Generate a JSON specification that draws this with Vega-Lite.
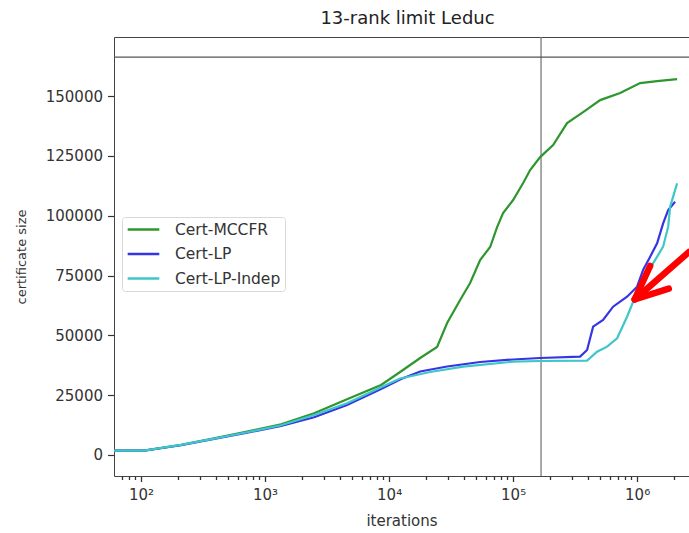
{
  "$schema": "https://vega.github.io/schema/vega-lite/v6.json",
  "width": 575,
  "height": 439,
  "autosize": {"type": "none"},
  "padding": {"left": 114, "top": 37, "right": 0, "bottom": 57},
  "background": "white",
  "config": {
    "view": {"stroke": null},
    "font": "DejaVu Sans",
    "axis": {"labelFont": "DejaVu Sans", "titleFont": "DejaVu Sans", "labelColor": "#333", "titleColor": "#333", "domainColor": "#444", "tickColor": "#333", "titleFontWeight": "normal", "grid": false}
  },
  "title": {"text": "13-rank limit Leduc", "fontSize": 18, "fontWeight": "normal", "color": "#222", "font": "DejaVu Sans", "offset": 8, "dx": 6},
  "datasets": {
    "curves": [
      {"series": "Cert-MCCFR", "it": 60.5, "size": 1800},
      {"series": "Cert-MCCFR", "it": 105.7, "size": 1800},
      {"series": "Cert-MCCFR", "it": 210, "size": 4180},
      {"series": "Cert-MCCFR", "it": 388, "size": 6980},
      {"series": "Cert-MCCFR", "it": 716, "size": 9740},
      {"series": "Cert-MCCFR", "it": 1346, "size": 12830},
      {"series": "Cert-MCCFR", "it": 2485, "size": 17420},
      {"series": "Cert-MCCFR", "it": 4581, "size": 23270},
      {"series": "Cert-MCCFR", "it": 8610, "size": 29250},
      {"series": "Cert-MCCFR", "it": 12270, "size": 34680},
      {"series": "Cert-MCCFR", "it": 17800, "size": 40530},
      {"series": "Cert-MCCFR", "it": 24380, "size": 45130},
      {"series": "Cert-MCCFR", "it": 29370, "size": 55150},
      {"series": "Cert-MCCFR", "it": 37400, "size": 64760},
      {"series": "Cert-MCCFR", "it": 45000, "size": 71870},
      {"series": "Cert-MCCFR", "it": 54200, "size": 81480},
      {"series": "Cert-MCCFR", "it": 65300, "size": 86910},
      {"series": "Cert-MCCFR", "it": 74300, "size": 95270},
      {"series": "Cert-MCCFR", "it": 83000, "size": 101100},
      {"series": "Cert-MCCFR", "it": 100000, "size": 106550},
      {"series": "Cert-MCCFR", "it": 120500, "size": 113650},
      {"series": "Cert-MCCFR", "it": 137200, "size": 119080},
      {"series": "Cert-MCCFR", "it": 165200, "size": 124510},
      {"series": "Cert-MCCFR", "it": 210200, "size": 129530},
      {"series": "Cert-MCCFR", "it": 272400, "size": 138720},
      {"series": "Cert-MCCFR", "it": 367000, "size": 143320},
      {"series": "Cert-MCCFR", "it": 503700, "size": 148330},
      {"series": "Cert-MCCFR", "it": 729800, "size": 151250},
      {"series": "Cert-MCCFR", "it": 1057000, "size": 155430},
      {"series": "Cert-MCCFR", "it": 1449000, "size": 156270},
      {"series": "Cert-MCCFR", "it": 2101000, "size": 157100},
      {"series": "Cert-LP", "it": 60.5, "size": 1800},
      {"series": "Cert-LP", "it": 105.7, "size": 1800},
      {"series": "Cert-LP", "it": 210, "size": 4060},
      {"series": "Cert-LP", "it": 388, "size": 6690},
      {"series": "Cert-LP", "it": 716, "size": 9320},
      {"series": "Cert-LP", "it": 1346, "size": 12120},
      {"series": "Cert-LP", "it": 2485, "size": 15750},
      {"series": "Cert-LP", "it": 4581, "size": 20890},
      {"series": "Cert-LP", "it": 8610, "size": 27580},
      {"series": "Cert-LP", "it": 12500, "size": 31760},
      {"series": "Cert-LP", "it": 17800, "size": 34890},
      {"series": "Cert-LP", "it": 29370, "size": 36980},
      {"series": "Cert-LP", "it": 54200, "size": 38860},
      {"series": "Cert-LP", "it": 100000, "size": 39900},
      {"series": "Cert-LP", "it": 165200, "size": 40530},
      {"series": "Cert-LP", "it": 346800, "size": 41080},
      {"series": "Cert-LP", "it": 395000, "size": 43880},
      {"series": "Cert-LP", "it": 441700, "size": 53620},
      {"series": "Cert-LP", "it": 531600, "size": 56410},
      {"series": "Cert-LP", "it": 640000, "size": 61970},
      {"series": "Cert-LP", "it": 829700, "size": 66150},
      {"series": "Cert-LP", "it": 1000000, "size": 70330},
      {"series": "Cert-LP", "it": 1117000, "size": 77300},
      {"series": "Cert-LP", "it": 1274000, "size": 82870},
      {"series": "Cert-LP", "it": 1449000, "size": 88450},
      {"series": "Cert-LP", "it": 1621000, "size": 96800},
      {"series": "Cert-LP", "it": 1780000, "size": 102350},
      {"series": "Cert-LP", "it": 2024000, "size": 105820},
      {"series": "Cert-LP-Indep", "it": 60.5, "size": 1800},
      {"series": "Cert-LP-Indep", "it": 105.7, "size": 1800},
      {"series": "Cert-LP-Indep", "it": 210, "size": 4180},
      {"series": "Cert-LP-Indep", "it": 388, "size": 6810},
      {"series": "Cert-LP-Indep", "it": 716, "size": 9490},
      {"series": "Cert-LP-Indep", "it": 1346, "size": 12410},
      {"series": "Cert-LP-Indep", "it": 2485, "size": 16710},
      {"series": "Cert-LP-Indep", "it": 4581, "size": 21600},
      {"series": "Cert-LP-Indep", "it": 8610, "size": 28290},
      {"series": "Cert-LP-Indep", "it": 12270, "size": 31960},
      {"series": "Cert-LP-Indep", "it": 21430, "size": 34680},
      {"series": "Cert-LP-Indep", "it": 39540, "size": 36890},
      {"series": "Cert-LP-Indep", "it": 100000, "size": 38990},
      {"series": "Cert-LP-Indep", "it": 165200, "size": 39280},
      {"series": "Cert-LP-Indep", "it": 395000, "size": 39410},
      {"series": "Cert-LP-Indep", "it": 475400, "size": 43170},
      {"series": "Cert-LP-Indep", "it": 572600, "size": 45260},
      {"series": "Cert-LP-Indep", "it": 689800, "size": 48750},
      {"series": "Cert-LP-Indep", "it": 829700, "size": 57770},
      {"series": "Cert-LP-Indep", "it": 929000, "size": 64040},
      {"series": "Cert-LP-Indep", "it": 1117000, "size": 73120},
      {"series": "Cert-LP-Indep", "it": 1345000, "size": 80090},
      {"series": "Cert-LP-Indep", "it": 1621000, "size": 87060},
      {"series": "Cert-LP-Indep", "it": 1780000, "size": 95420},
      {"series": "Cert-LP-Indep", "it": 1846000, "size": 103780},
      {"series": "Cert-LP-Indep", "it": 1951000, "size": 107960},
      {"series": "Cert-LP-Indep", "it": 2101000, "size": 113540}
    ],
    "arrow": [
      {"part": "head", "o": 1, "it": 1274000, "size": 79000},
      {"part": "head", "o": 2, "it": 955000, "size": 65000},
      {"part": "head", "o": 3, "it": 1800000, "size": 69500},
      {"part": "shaft", "o": 1, "it": 955000, "size": 65000},
      {"part": "shaft", "o": 2, "it": 2620000, "size": 84820}
    ],
    "vref": [{"it": 168000}],
    "href": [{"size": 166300}]
  },
  "layer": [
    {
      "data": {"name": "vref"},
      "mark": {"type": "rule", "color": "#7a7a7a", "strokeWidth": 1.3},
      "encoding": {
        "x": {
          "field": "it", "type": "quantitative",
          "scale": {"type": "log", "domain": [60.5, 2620000], "nice": false},
          "axis": {"orient": "bottom", "values": [70, 80, 90, 200, 300, 400, 500, 600, 700, 800, 900, 2000, 3000, 4000, 5000, 6000, 7000, 8000, 9000, 20000, 30000, 40000, 50000, 60000, 70000, 80000, 90000, 200000, 300000, 400000, 500000, 600000, 700000, 800000, 900000, 2000000], "labels": false, "domain": false, "ticks": true, "tickSize": 3.5, "tickColor": "#333", "tickWidth": 1.3, "title": null, "grid": false, "zindex": 1}
        }
      }
    },
    {
      "data": {"name": "href"},
      "mark": {"type": "rule", "color": "#555", "strokeWidth": 1.3},
      "encoding": {
        "y": {
          "field": "size", "type": "quantitative",
          "scale": {"domain": [-8800, 174700], "nice": false, "zero": false},
          "axis": {"values": [0, 25000, 50000, 75000, 100000, 125000, 150000], "format": "d", "title": "certificate size", "labelFontSize": 15, "titleFontSize": 13, "tickSize": 6.5, "tickWidth": 1.2, "labelPadding": 5, "titlePadding": 17}
        }
      }
    },
    {
      "data": {"name": "curves"},
      "mark": {"type": "line", "strokeWidth": 2.2, "clip": true},
      "encoding": {
        "x": {
          "field": "it", "type": "quantitative",
          "scale": {"type": "log", "domain": [60.5, 2620000], "nice": false},
          "axis": {
            "orient": "bottom",
            "values": [100, 1000, 10000, 100000, 1000000],
            "labelExpr": "'10' + ['⁰','¹','²','³','⁴','⁵','⁶','⁷'][round(log(datum.value)/LN10)]",
            "tickSize": 5.5, "tickWidth": 1.3,
            "title": "iterations", "labelFontSize": 15, "titleFontSize": 15, "labelPadding": 6, "titlePadding": 11, "grid": false
          }
        },
        "y": {
          "field": "size", "type": "quantitative",
          "scale": {"domain": [-8800, 174700], "nice": false, "zero": false},
          "axis": {"values": [0, 25000, 50000, 75000, 100000, 125000, 150000], "format": "d", "title": "certificate size", "labelFontSize": 15, "titleFontSize": 13, "tickSize": 6.5, "tickWidth": 1.2, "labelPadding": 5, "titlePadding": 17}
        },
        "color": {
          "field": "series", "type": "nominal",
          "scale": {"domain": ["Cert-MCCFR", "Cert-LP", "Cert-LP-Indep"], "range": ["#2f962f", "#3535e6", "#3fc6c9"]},
          "legend": {"title": null, "orient": "none", "legendX": 8, "legendY": 180, "symbolType": "stroke", "symbolSize": 1000, "symbolStrokeWidth": 2.5, "clipHeight": 17, "rowPadding": 7.5, "labelFontSize": 15.5, "labelFont": "DejaVu Sans", "labelColor": "#333", "labelOffset": 14, "padding": 4, "fillColor": "white", "strokeColor": "#d8d8d8", "cornerRadius": 3}
        }
      }
    },
    {
      "data": {"name": "arrow"},
      "mark": {"type": "line", "color": "#ff0000", "strokeWidth": 6.5, "strokeCap": "round", "strokeJoin": "round", "clip": false},
      "encoding": {
        "x": {
          "field": "it", "type": "quantitative",
          "scale": {"type": "log", "domain": [60.5, 2620000], "nice": false},
          "axis": {"orient": "top", "domain": true, "ticks": false, "labels": false, "title": null, "grid": false}
        },
        "y": {
          "field": "size", "type": "quantitative",
          "scale": {"domain": [-8800, 174700], "nice": false, "zero": false},
          "axis": {"values": [0, 25000, 50000, 75000, 100000, 125000, 150000], "format": "d", "title": "certificate size", "labelFontSize": 15, "titleFontSize": 13, "tickSize": 6.5, "tickWidth": 1.2, "labelPadding": 5, "titlePadding": 17}
        },
        "detail": {"field": "part", "type": "nominal"},
        "order": {"field": "o", "type": "quantitative"}
      }
    }
  ],
  "resolve": {"axis": {"x": "independent"}}
}
